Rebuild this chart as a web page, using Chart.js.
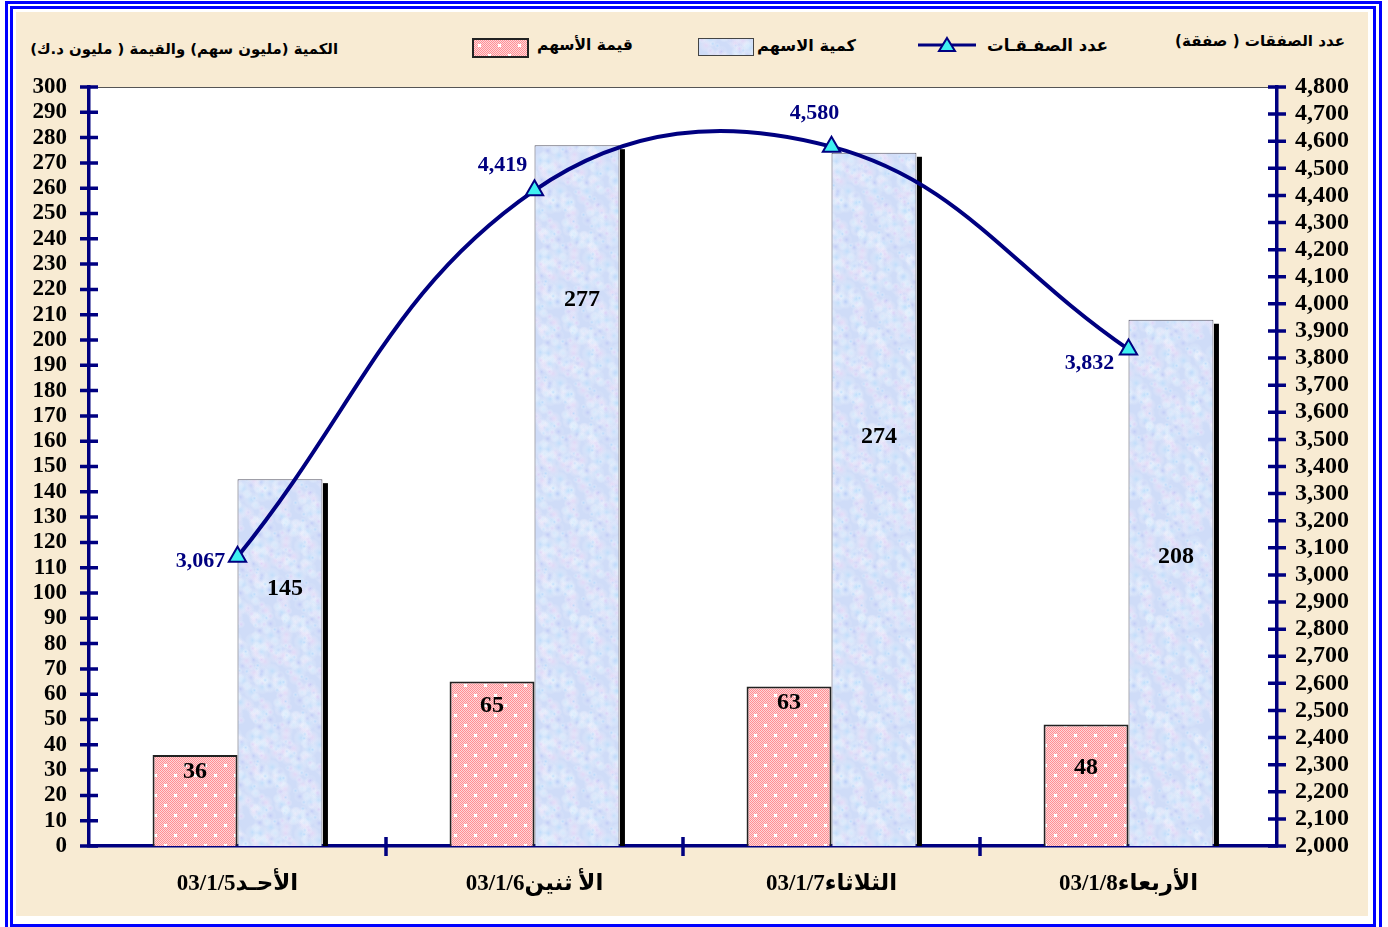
<!DOCTYPE html>
<html>
<head>
<meta charset="utf-8">
<script src="https://cdn.jsdelivr.net/npm/chart.js@4.4.1/dist/chart.umd.min.js"></script>
<style>
html,body{margin:0;padding:0;background:#fff;width:1388px;height:927px;overflow:hidden;position:relative}
#outer{position:absolute;left:5px;top:1px;width:1377px;height:940px;border:3px solid #0000ff;box-sizing:border-box}
#inner{position:absolute;left:10px;top:6px;width:1366px;height:921px;border:3px solid #0000ff;box-sizing:border-box}
#beige{position:absolute;left:16px;top:12px;width:1352px;height:904px;background:#f8ebd3}
#wrap{position:absolute;left:0;top:0;width:1388px;height:927px}
.t{position:absolute;white-space:nowrap;direction:rtl;font-family:"DejaVu Sans",sans-serif;font-weight:bold;color:#000;line-height:1}
.sw{position:absolute;box-sizing:border-box}
</style>
</head>
<body>
<div id="outer"></div>
<div id="inner"></div>
<div id="beige"></div>
<div class="t" data-l="30" data-r="338" style="top:42px;font-size:15px">الكمية (مليون سهم) والقيمة ( مليون د.ك)</div>
<div class="t" data-l="1175" data-r="1345" style="top:34px;font-size:15px">عدد الصفقات ( صفقة)</div>
<div class="t" data-l="537" data-r="633" style="top:38px;font-size:17px">قيمة الأسهم</div>
<div class="t" data-l="757" data-r="856" style="top:38px;font-size:17px">كمية الاسهم</div>
<div class="t" data-l="987" data-r="1108" style="top:38px;font-size:17px">عدد الصفـقـات</div>
<canvas id="swPink" class="sw" width="53" height="16" style="left:472px;top:38px;border:2px solid #222"></canvas>
<canvas id="swBlue" class="sw" width="54" height="16" style="left:698px;top:38px;border:1px solid #444"></canvas>
<svg class="sw" style="left:918px;top:35px" width="58" height="20">
  <line x1="0" y1="10" x2="58" y2="10" stroke="#000080" stroke-width="3"/>
  <polygon points="29,3 37,16 21,16" fill="#40f0f0" stroke="#000080" stroke-width="2"/>
</svg>
<div id="wrap"><canvas id="c"></canvas></div>
<script>
// ---- data ----
const categories = ['الأحـد03/1/5', 'الأ ثنين03/1/6', 'الثلاثاء03/1/7', 'الأربعاء03/1/8'];
const shareValue = [36, 65, 63, 48];        // قيمة الأسهم (مليون د.ك)
const shareVolume = [145, 277, 274, 208];   // كمية الاسهم (مليون سهم)
const dealCount = [3067, 4419, 4580, 3832]; // عدد الصفقات
const leftAxis = {min: 0, max: 300, step: 10};
const rightAxis = {min: 2000, max: 4800, step: 100};

// ---- label placement (style) ----
const pinkLabelFrac = [0.81, 0.85, 0.90, 0.64];
const blueLabelFrac = [0.70, 0.78, 0.59, 0.55];
const lineLabelOffset = [[-37, 5], [-32, -25], [-17, -33], [-39, 14]];

// fit HTML texts to their widths
document.querySelectorAll('.t').forEach(el => {
  const l = +el.dataset.l, r = +el.dataset.r;
  const w = el.getBoundingClientRect().width;
  const fs = parseFloat(el.style.fontSize);
  el.style.fontSize = (fs * (r - l) / w).toFixed(2) + 'px';
  el.style.right = (1388 - r) + 'px';
});

function makePink(){
  const c = document.createElement('canvas'); c.width = 20; c.height = 20;
  const g = c.getContext('2d');
  for (let y = 0; y < 20; y++) for (let x = 0; x < 20; x++) {
    g.fillStyle = ((x + y) % 2 === 0) ? '#ff8f94' : '#ffd6d8';
    g.fillRect(x, y, 1, 1);
  }
  g.fillStyle = '#ffffff';
  [[5,5],[15,15]].forEach(([x,y]) => { g.fillRect(x-1, y, 3, 1); g.fillRect(x, y-1, 1, 3); g.fillRect(x-1, y-1, 3, 3); });
  return c;
}
function makeBlue(){
  const S = 96;
  const c = document.createElement('canvas'); c.width = S; c.height = S;
  const g = c.getContext('2d');
  g.fillStyle = '#cfdcf8'; g.fillRect(0, 0, S, S);
  const cols = ['rgba(170,212,252,0.7)', 'rgba(226,204,246,0.65)', 'rgba(214,236,253,0.75)', 'rgba(178,188,244,0.5)', 'rgba(240,212,244,0.55)', 'rgba(185,222,252,0.65)'];
  for (let k = 0; k < 220; k++) {
    const x = (k * 37.7 + (k % 7) * 5.1) % S, y = (k * 61.3 + (k * k) % 23) % S, r = 3 + (k * 13) % 6;
    for (const dx of [-S, 0, S]) for (const dy of [-S, 0, S]) {
      const gr = g.createRadialGradient(x+dx, y+dy, 0, x+dx, y+dy, r);
      gr.addColorStop(0, cols[k % cols.length]);
      gr.addColorStop(1, 'rgba(255,255,255,0)');
      g.fillStyle = gr;
      g.fillRect(x+dx-r, y+dy-r, 2*r, 2*r);
    }
  }
  return c;
}
const pinkTile = makePink(), blueTile = makeBlue();
const ctx = document.getElementById('c').getContext('2d');
const pinkPat = ctx.createPattern(pinkTile, 'repeat');
const bluePat = ctx.createPattern(blueTile, 'repeat');
['swPink','swBlue'].forEach((id, i) => {
  const cv = document.getElementById(id), g = cv.getContext('2d');
  g.fillStyle = g.createPattern(i ? blueTile : pinkTile, 'repeat');
  g.fillRect(0, 0, cv.width, cv.height);
});

const NAVY = '#000080';
const numFont = '"Liberation Serif","Times New Roman",serif';

const deco = {
  id: 'deco',
  beforeDraw(chart) {
    const {ctx, chartArea: a} = chart;
    ctx.save();
    ctx.fillStyle = '#ffffff';
    ctx.fillRect(a.left, a.top, a.right - a.left, a.bottom - a.top);
    ctx.strokeStyle = '#555'; ctx.lineWidth = 1;
    ctx.beginPath(); ctx.moveTo(a.left, a.top + 0.5); ctx.lineTo(a.right, a.top + 0.5); ctx.stroke();
    ctx.restore();
  },
  afterDatasetDraw(chart, args) {
    if (args.index !== 2) return;
    const {ctx} = chart;
    ctx.save();
    ctx.fillStyle = '#000';
    args.meta.data.forEach(b => {
      const x = b.x + b.width / 2 + 0.5;
      ctx.fillRect(x, b.y + 4, 5, b.base - b.y - 4);
    });
    ctx.restore();
  },
  afterDatasetsDraw(chart) {
    const {ctx} = chart;
    const yL = chart.scales.y;
    ctx.save();
    ctx.textAlign = 'center'; ctx.textBaseline = 'middle';
    ctx.font = 'bold 24px ' + numFont; ctx.fillStyle = '#000';
    chart.getDatasetMeta(1).data.forEach((b, i) => {
      ctx.fillText(String(shareValue[i]), b.x, yL.getPixelForValue(shareValue[i] * pinkLabelFrac[i]));
    });
    chart.getDatasetMeta(2).data.forEach((b, i) => {
      ctx.fillText(String(shareVolume[i]), b.x + 5, yL.getPixelForValue(shareVolume[i] * blueLabelFrac[i]));
    });
    ctx.font = 'bold 22px ' + numFont; ctx.fillStyle = NAVY;
    chart.getDatasetMeta(0).data.forEach((p, i) => {
      const [dx, dy] = lineLabelOffset[i];
      ctx.fillText(dealCount[i].toLocaleString('en-US'), p.x + dx, p.y + dy);
    });
    ctx.restore();
  },
  afterDraw(chart) {
    const {ctx, scales} = chart;
    ctx.save();
    ctx.strokeStyle = NAVY; ctx.lineWidth = 3.5;
    ctx.beginPath();
    const yl = scales.y, yr = scales.y1, xs = scales.x;
    yl.ticks.forEach((t, i) => { const y = yl.getPixelForTick(i); ctx.moveTo(yl.right - 9, y); ctx.lineTo(yl.right + 9, y); });
    yr.ticks.forEach((t, i) => { const y = yr.getPixelForTick(i); ctx.moveTo(yr.left - 9, y); ctx.lineTo(yr.left + 9, y); });
    const n = categories.length;
    for (let i = 1; i < n; i++) {
      const x = xs.left + i * (xs.right - xs.left) / n;
      ctx.moveTo(x, xs.top - 9); ctx.lineTo(x, xs.top + 10);
    }
    ctx.stroke();
    ctx.restore();
  }
};

new Chart(ctx, {
  data: {
    labels: categories,
    datasets: [
      {
        type: 'line', label: 'عدد الصفقات', data: dealCount, yAxisID: 'y1', order: 0,
        borderColor: NAVY, borderWidth: 4, tension: 0.4, fill: false,
        pointStyle: 'triangle', pointRadius: 10, pointBackgroundColor: '#40f0f0',
        pointBorderColor: NAVY, pointBorderWidth: 2
      },
      {
        type: 'bar', label: 'قيمة الأسهم', data: shareValue, yAxisID: 'y', order: 1,
        backgroundColor: pinkPat, borderColor: '#222', borderWidth: 2,
        categoryPercentage: 0.572, barPercentage: 1
      },
      {
        type: 'bar', label: 'كمية الاسهم', data: shareVolume, yAxisID: 'y', order: 1,
        backgroundColor: bluePat, borderColor: '#556', borderWidth: 1,
        categoryPercentage: 0.572, barPercentage: 1
      }
    ]
  },
  options: {
    responsive: true, maintainAspectRatio: false, animation: false,
    layout: {padding: {top: 87, left: 0, right: 0, bottom: 0}},
    plugins: {legend: {display: false}, tooltip: {enabled: false}},
    scales: {
      x: {
        z: 1, offset: true,
        grid: {display: false, drawTicks: false},
        border: {display: true, color: NAVY, width: 3.5},
        ticks: {color: '#000', padding: 24, maxRotation: 0, font: {family: '"Liberation Serif","DejaVu Sans",serif', weight: 'bold', size: 23}},
        afterFit(s) { s.height = 81; }
      },
      y: {
        z: 1, position: 'left', min: leftAxis.min, max: leftAxis.max,
        grid: {display: false, drawTicks: false},
        border: {display: true, color: NAVY, width: 3.5},
        ticks: {stepSize: leftAxis.step, color: '#000', padding: 22, autoSkip: false, font: {family: numFont, weight: 'bold', size: 23}},
        afterFit(s) { s.width = 89; }
      },
      y1: {
        z: 1, position: 'right', min: rightAxis.min, max: rightAxis.max,
        grid: {display: false, drawTicks: false},
        border: {display: true, color: NAVY, width: 3.5},
        ticks: {stepSize: rightAxis.step, color: '#000', padding: 18, autoSkip: false,
          font: {family: numFont, weight: 'bold', size: 24},
          callback: v => v.toLocaleString('en-US')},
        afterFit(s) { s.width = 111; }
      }
    }
  },
  plugins: [deco]
});
</script>
</body>
</html>
